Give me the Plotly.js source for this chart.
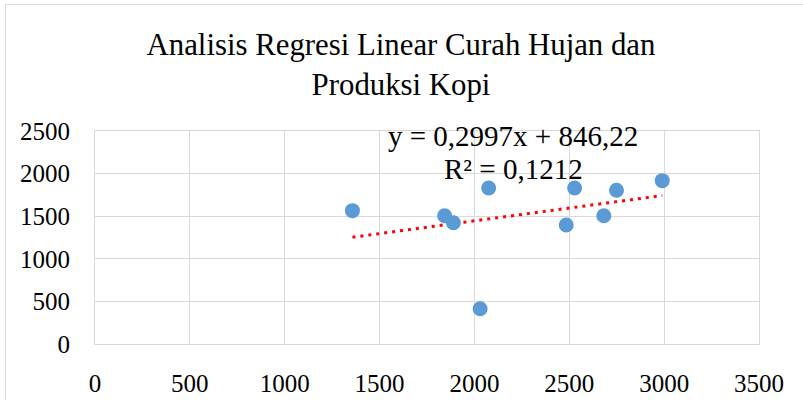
<!DOCTYPE html>
<html>
<head>
<meta charset="utf-8">
<script src="https://cdn.plot.ly/plotly-3.0.1.min.js"></script>
<style>
  html, body { margin: 0; padding: 0; background: #fff; }
  #chart { width: 803px; height: 400px; position: relative; }
  #frame { position: absolute; left: 5px; top: 4px; width: 900px; height: 500px;
           border-left: 1.5px solid #d9d9d9; border-top: 1.5px solid #d9d9d9; pointer-events: none; }
</style>
</head>
<body>
<div id="chart"></div>
<div id="frame"></div>
<script>
// Data
const curahHujan = [1357, 1843, 1889, 2075, 2030, 2484, 2528, 2682, 2749, 2990];
const produksiKopi = [1565, 1506, 1424, 1831, 414, 1397, 1831, 1506, 1804, 1917];
const trendSlope = 0.2997;
const trendIntercept = 846.22;
const equationLabel = 'y = 0,2997x + 846,22';
const r2Label = 'R² = 0,1212';
const xTicks = [0, 500, 1000, 1500, 2000, 2500, 3000, 3500];
const yTicks = [0, 500, 1000, 1500, 2000, 2500];
const chartTitle = 'Analisis Regresi Linear Curah Hujan dan<br>Produksi Kopi';

const xMin = Math.min(...curahHujan);
const xMax = Math.max(...curahHujan);
const trendX = [xMin, xMax];
const trendY = trendX.map(v => trendSlope * v + trendIntercept);

const serif = 'Liberation Serif, Times New Roman, serif';

const traces = [
  {
    x: trendX, y: trendY, type: 'scatter', mode: 'lines',
    line: { color: '#ff0000', width: 3, dash: '3px,5px' },
    hoverinfo: 'skip', showlegend: false
  },
  {
    x: curahHujan, y: produksiKopi, type: 'scatter', mode: 'markers',
    marker: { color: '#5b9bd5', size: 15 },
    showlegend: false
  }
];

const axisCommon = {
  showgrid: true, gridcolor: '#d9d9d9', gridwidth: 1,
  zeroline: false, showline: true, linecolor: '#d9d9d9', linewidth: 1, mirror: true,
  ticks: '',
  tickfont: { family: serif, size: 25, color: '#000' },
  fixedrange: true
};

const layout = {
  width: 803, height: 400,
  margin: { l: 95, r: 44, t: 131, b: 56 },
  paper_bgcolor: '#ffffff', plot_bgcolor: '#ffffff',
  font: { family: serif, color: '#000000', size: 25 },
  title: {
    text: chartTitle,
    font: { family: serif, size: 30.8, color: '#000000' },
    x: 401 / 803, xanchor: 'center', xref: 'container',
    y: 1 - 55 / 400, yanchor: 'top', yref: 'container'
  },
  xaxis: Object.assign({}, axisCommon, {
    range: [0, 3500], tickvals: xTicks, ticktext: xTicks.map(String),
    ticklabelstandoff: 17
  }),
  yaxis: Object.assign({}, axisCommon, {
    range: [0, 2500], tickvals: yTicks, ticktext: yTicks.map(String),
    ticklabelstandoff: 19
  }),
  annotations: [
    {
      text: equationLabel,
      xref: 'paper', yref: 'paper',
      x: (513 - 95) / 664, y: (344 - 136) / 213,
      xanchor: 'center', yanchor: 'middle', showarrow: false,
      font: { family: serif, size: 29, color: '#000' }
    },
    {
      text: r2Label,
      xref: 'paper', yref: 'paper',
      x: (513 - 95) / 664, y: (344 - 169) / 213,
      xanchor: 'center', yanchor: 'middle', showarrow: false,
      font: { family: serif, size: 29, color: '#000' }
    }
  ],
  showlegend: false
};

Plotly.newPlot('chart', traces, layout, { displayModeBar: false, staticPlot: true });
</script>
</body>
</html>
